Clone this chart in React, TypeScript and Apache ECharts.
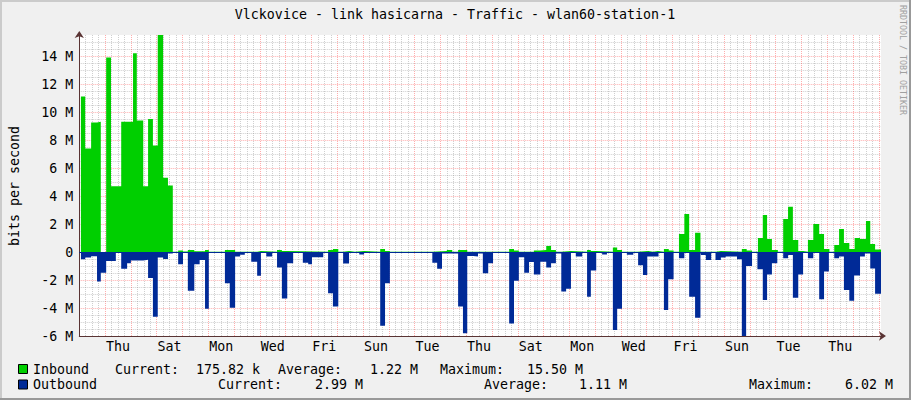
import React, { useEffect, useRef } from 'react';
import * as echarts from 'echarts';

const TITLE = 'Vlckovice - link hasicarna - Traffic - wlan60-station-1';
const Y_NAME = 'bits per second';
const WATERMARK = 'RRDTOOL / TOBI OETIKER';
// day names starting with the first (partial) day, Wednesday
const DAY_NAMES = ['Wed', 'Thu', 'Fri', 'Sat', 'Sun', 'Mon', 'Tue'];
const X_END_HOURS = 746; // hours after the first Wednesday 00:00
const Y_MIN = -6;
const Y_MAX = 15.5;
const Y_STEP = 2;

// step changes: [hours after Wed 00:00, Mbit/s]
const inbound: [number, number][] = [
  [1.5, 11.1], [5.5, 7.4], [11, 9.25], [16.5, 9.3], [20, 0], [25, 13.9], [29.5, 4.7],
  [39, 9.3], [50, 14.2], [53.5, 9.4], [59.5, 4.7], [64, 9.5], [68.5, 7.6], [73, 15.5],
  [78, 5.3], [82.5, 4.75], [87, 0.02], [92, 0.1], [96.5, 0.03], [101, 0.14], [107, 0.05],
  [117, 0.14], [120.5, 0.02], [135.5, 0.14], [145, 0.02], [165.5, 0.07], [169, 0.02],
  [184, 0.14], [188.5, 0.07], [193.5, 0.02], [231.5, 0.14], [236, 0.21], [241, 0.02],
  [245.5, 0.07], [251, 0.02], [256.5, 0.07], [265, 0.02], [280, 0.21], [284.5, 0.08],
  [289, 0.02], [328.5, 0.07], [342, 0.14], [347, 0.02], [352.5, 0.14], [361, 0.02],
  [400, 0.21], [404.5, 0.1], [409, 0.02], [423, 0.1], [428.5, 0.14], [434.5, 0.43],
  [439, 0.14], [443.5, 0.02], [448.5, 0.07], [457.5, 0.02], [472.5, 0.14], [476, 0.07],
  [481, 0.02], [496.5, 0.33], [500.5, 0.14], [505, 0.02], [519.5, 0.07], [529.5, 0.02],
  [534, 0.07], [538.5, 0.02], [544, 0.21], [548.5, 0.1], [553, 0.02], [558, 1.29],
  [563, 2.71], [567.5, 0.14], [573, 1.38], [578, 0.02], [592.5, 0.07], [597, 0.02],
  [616.5, 0.21], [621, 0.1], [626, 0.02], [631.5, 1.0], [636, 2.64], [640, 0.93],
  [644.5, 0.14], [650, 0.02], [655, 2.36], [659.5, 3.24], [664, 0.86], [669, 0.07],
  [673.5, 0.02], [678, 0.86], [683, 2.0], [688.5, 1.29], [693, 0.21], [698, 0.02],
  [702.5, 0.5], [707, 1.64], [711.5, 0.64], [716.5, 0.21], [721.5, 1.0], [726.5, 0.93],
  [732, 2.21], [736, 0.57], [740.5, 0.18],
];

// outbound magnitudes (drawn below zero): [hours after Wed 00:00, Mbit/s]
const outbound: [number, number][] = [
  [1.5, 0.52], [5.5, 0.4], [11, 0.3], [16.5, 2.1], [20, 1.48], [25, 0.64], [34, 0.05],
  [39, 1.2], [44.5, 0.8], [48, 0.6], [59.5, 0.55], [64, 1.86], [68.5, 4.62], [73, 0.4],
  [78, 0.5], [82.5, 0.1], [87, 0.02], [92, 0.87], [96.5, 0.02], [101, 2.76], [107, 0.87],
  [112, 0.57], [117, 4.05], [120.5, 0.02], [135.5, 2.24], [140, 3.98], [145, 0.33],
  [149.5, 0.2], [154, 0.05], [160, 0.69], [165.5, 1.69], [169, 0.05], [174, 0.33],
  [179.5, 0.05], [184, 1.1], [188.5, 3.33], [193.5, 0.81], [199, 0.02], [208, 0.76],
  [213, 0.88], [216.5, 0.38], [227, 0.02], [231.5, 2.95], [236, 3.9], [241, 0.02],
  [245.5, 0.83], [251, 0.05], [260.5, 0.17], [265, 0.02], [280, 5.26], [284.5, 2.24],
  [289, 0.02], [328.5, 0.76], [333, 1.19], [337.5, 0.1], [352.5, 3.9], [357, 5.81],
  [361, 0.29], [366.5, 0.33], [371, 0.1], [375.5, 1.52], [380.5, 0.81], [385, 0.02],
  [400, 5.1], [404.5, 2.05], [409, 0.38], [414, 1.48], [418.5, 0.71], [423, 1.6],
  [429, 0.69], [434.5, 1.1], [439, 0.81], [443.5, 0.1], [448.5, 2.83], [453, 2.62],
  [457.5, 0.02], [462, 0.33], [468, 0.02], [472.5, 3.19], [476, 1.33], [481, 0.05],
  [486.5, 0.17], [491, 0.05], [496.5, 5.57], [500.5, 4.05], [505, 0.07], [509.5, 0.19],
  [515.5, 0.07], [520, 0.95], [524.5, 1.64], [528.5, 0.33], [539, 0.05], [544, 4.14],
  [548, 1.95], [553, 0.02], [558, 0.45], [563, 0.05], [567.5, 3.19], [573, 4.69],
  [578, 0.02], [578.5, 0.21], [583, 0.57], [588, 0.02], [592, 0.57], [597, 0.4],
  [601.5, 0.33], [612, 0.52], [616.5, 6.02], [620.5, 1.0], [626, 0.02], [631, 1.24],
  [636, 3.43], [640, 1.6], [644.5, 0.8], [649.5, 0.02], [655, 0.45], [659.5, 0.21],
  [664, 3.26], [669, 1.6], [673.5, 0.02], [678, 0.45], [683, 0.05], [688.5, 3.38],
  [693, 1.4], [697.5, 0.05], [702.5, 0.45], [707, 0.33], [711.5, 2.71], [716.5, 3.48],
  [721, 1.67], [726.5, 0.33], [731, 0.1], [736, 1.17], [740.5, 2.99],
];

const legendNames = ['Inbound', 'Outbound'];
const legendColors = ['#00CF00', '#002A97'];
const statLabels = ['Current:', 'Average:', 'Maximum:'];
const inboundStats = ['175.82 k', '1.22 M', '15.50 M'];
const outboundStats = ['2.99 M', '1.11 M', '6.02 M'];

const FONT = '"DejaVu Sans Mono", "Liberation Mono", monospace';
const FS = 13.3;

function toSteps(pts: [number, number][], sign: number): number[][] {
  const d = pts.map(([h, v]) => [h, sign * v]);
  d.push([X_END_HOURS, sign * pts[pts.length - 1][1]]);
  return d;
}

export default function App() {
  const ref = useRef<HTMLDivElement>(null);
  useEffect(() => {
    if (!ref.current) return;
    const chart = echarts.init(ref.current, null, { renderer: 'svg' });
    const gridLine = 'rgba(130,130,130,0.38)';
    const mgridLine = 'rgba(255,0,0,0.32)';
    const axisColor = '#5a3434';

    const txt = (x: number, y: number, text: string, extra: any = {}) => ({
      type: 'text',
      x,
      y,
      silent: true,
      ...extra,
      style: {
        text,
        font: `${FS}px ${FONT}`,
        fill: '#000',
        align: 'left',
        verticalAlign: 'middle',
        ...(extra.style || {}),
      },
    });

    const rowsY = [369, 384.5];
    const statX = [
      [115, 278, 440],
      [218, 484, 749],
    ];
    const valX = [
      [196, 370, 527],
      [315, 579, 845],
    ];
    const stats = [inboundStats, outboundStats];
    const legendGraphics: any[] = [];
    legendNames.forEach((name, r) => {
      const y = rowsY[r];
      legendGraphics.push({
        type: 'rect',
        silent: true,
        shape: { x: 18.5, y: y - 4.5, width: 9, height: 9 },
        style: { fill: legendColors[r], stroke: '#000', lineWidth: 1 },
      });
      legendGraphics.push(txt(33, y, name));
      statLabels.forEach((lab, i) => {
        legendGraphics.push(txt(statX[r][i], y, lab));
        legendGraphics.push(txt(valX[r][i], y, stats[r][i]));
      });
    });

    const option: any = {
      animation: false,
      backgroundColor: '#F0F0F0',
      grid: {
        left: 79.3,
        right: 30,
        top: 35,
        bottom: 64,
        show: true,
        backgroundColor: '#FFFFFF',
        borderWidth: 0,
      },
      xAxis: [
        {
          type: 'value',
          position: 'bottom',
          min: 0,
          max: X_END_HOURS,
          interval: 24,
          axisLine: {
            show: true,
            onZero: false,
            lineStyle: { color: axisColor, width: 1 },
            symbol: ['none', 'arrow'],
            symbolSize: [7, 7],
            symbolOffset: [0, 5],
          },
          axisTick: { show: false },
          axisLabel: { show: false },
          minorTick: { show: false, splitNumber: 4 },
          splitLine: {
            show: true,
            showMaxLine: false,
            lineStyle: { color: mgridLine, type: [1, 1], width: 1 },
          },
          minorSplitLine: {
            show: true,
            lineStyle: { color: gridLine, type: [1, 1], width: 1 },
          },
        },
        {
          type: 'value',
          position: 'bottom',
          min: -12,
          max: X_END_HOURS - 12,
          interval: 12,
          axisLine: { show: false, onZero: false },
          axisTick: { show: false },
          splitLine: { show: false },
          axisLabel: {
            show: true,
            margin: 4,
            color: '#000',
            fontFamily: FONT,
            fontSize: FS,
            showMinLabel: false,
            showMaxLabel: false,
            formatter: (v: number) => {
              if (v < 0 || v % 24 !== 0) return '';
              const day = v / 24;
              if (day % 2 !== 1) return '';
              return DAY_NAMES[day % 7];
            },
          },
        },
      ],
      yAxis: {
        type: 'value',
        min: Y_MIN,
        max: Y_MAX,
        interval: Y_STEP,
        axisLine: {
          show: true,
          onZero: false,
          lineStyle: { color: axisColor, width: 1 },
          symbol: ['none', 'arrow'],
          symbolSize: [7, 7],
          symbolOffset: [0, 4],
        },
        axisTick: { show: false },
        minorTick: { show: false, splitNumber: 4 },
        axisLabel: {
          margin: 6,
          color: '#000',
          fontFamily: FONT,
          fontSize: FS,
          showMaxLabel: false,
          formatter: (v: number) => (v === 0 ? '0' : `${v} M`),
        },
        splitLine: {
          show: true,
          showMaxLine: false,
          lineStyle: { color: mgridLine, type: [1, 1], width: 1 },
        },
        minorSplitLine: {
          show: true,
          lineStyle: { color: gridLine, type: [1, 1], width: 1 },
        },
      },
      series: [
        {
          name: 'Inbound',
          type: 'line',
          xAxisIndex: 0,
          yAxisIndex: 0,
          step: 'end',
          symbol: 'none',
          data: toSteps(inbound, 1),
          lineStyle: { width: 0 },
          areaStyle: { color: legendColors[0], opacity: 1, origin: 0 },
          silent: true,
        },
        {
          name: 'Outbound',
          type: 'line',
          xAxisIndex: 0,
          yAxisIndex: 0,
          step: 'end',
          symbol: 'none',
          data: toSteps(outbound, -1),
          lineStyle: { width: 0 },
          areaStyle: { color: legendColors[1], opacity: 1, origin: 0 },
          silent: true,
          markLine: {
            silent: true,
            symbol: 'none',
            label: { show: false },
            lineStyle: { color: legendColors[1], width: 1, type: 'solid' },
            data: [{ yAxis: 0 }],
          },
        },
      ],
      graphic: [
        { type: 'rect', silent: true, shape: { x: 0, y: 0, width: 911, height: 2 }, style: { fill: '#CBCBCB' } },
        { type: 'rect', silent: true, shape: { x: 0, y: 0, width: 2, height: 400 }, style: { fill: '#CBCBCB' } },
        { type: 'rect', silent: true, shape: { x: 0, y: 398, width: 911, height: 2 }, style: { fill: '#999999' } },
        { type: 'rect', silent: true, shape: { x: 909, y: 0, width: 2, height: 400 }, style: { fill: '#999999' } },
        txt(455, 14.5, TITLE, { style: { align: 'center' } }),
        txt(14, 186, Y_NAME, { rotation: Math.PI / 2, style: { align: 'center' } }),
        {
          type: 'text',
          x: 903,
          y: 60,
          rotation: -Math.PI / 2,
          silent: true,
          style: {
            text: WATERMARK,
            font: `8.3px ${FONT}`,
            fill: '#A0A0A0',
            align: 'center',
            verticalAlign: 'middle',
          },
        },
        ...legendGraphics,
      ],
    };
    chart.setOption(option);
    return () => chart.dispose();
  }, []);
  return (
    <div
      ref={ref}
      style={{ position: 'fixed', left: 0, top: 0, width: 911, height: 400 }}
    />
  );
}
